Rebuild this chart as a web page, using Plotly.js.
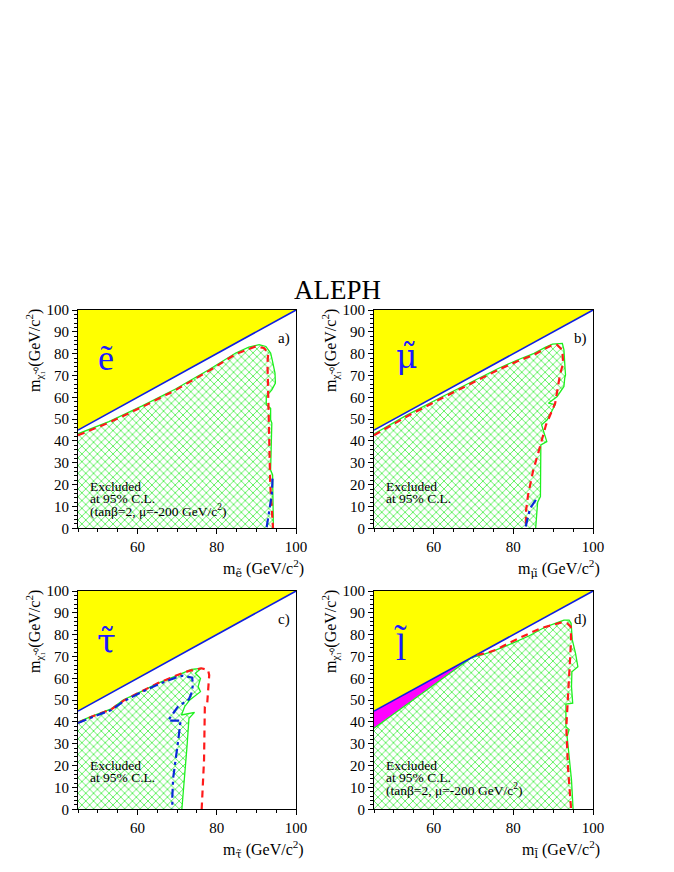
<!DOCTYPE html>
<html>
<head>
<meta charset="utf-8">
<script src="https://cdn.plot.ly/plotly-3.0.1.min.js"></script>
<style>html,body{margin:0;padding:0;background:#fff;}#plot{width:674px;height:872px;}</style>
</head>
<body>
<div id="plot"></div>
<script>
// ---------- data ----------
// kinematic limit m_chi = m_slepton
const kin_x = [45, 100];
const kin_y = [45, 100];
const kin_top_y = [100, 100];

// a) selectron
const e_green_x = [45, 52.8, 61.2, 69.6, 78.0, 84.8, 88.1, 90.7, 92.4, 93.6, 94.0, 94.7, 94.8, 93.9, 92.5, 92.5, 93.6, 93.6, 93.9, 93.6, 94.1, 94.3];
const e_green_y = [43.3, 48.9, 56.1, 63.8, 72.6, 80.3, 83.0, 84.1, 83.3, 80.3, 77.2, 71.1, 66.5, 63.4, 60.4, 56.6, 55.0, 49.7, 48.2, 26.7, 24.5, 0];
const e_red_x = [45, 52.8, 61.2, 69.6, 78.0, 84.8, 89.8, 91.9, 93.0, 92.8, 93.0, 93.2, 93.5, 94.2];
const e_red_y = [42.6, 48.4, 55.6, 63.3, 72.1, 79.8, 83.3, 82.6, 80.3, 75.7, 60.4, 39.0, 20.0, 0];
const e_blue_x = [92.6, 93.2, 93.9, 94.1];
const e_blue_y = [0.5, 7.5, 15.5, 23.7];

// b) smuon
const mu_green_x = [45, 53, 61.6, 69, 76.2, 81, 85.2, 88, 89.8, 92.3, 92.7, 93.0, 93.1, 92.9, 92.7, 91.0, 88.8, 90.5, 89.3, 88.5, 87.1, 88.4, 86.9, 86.8, 86.1, 85.6];
const mu_green_y = [43.2, 51.6, 59.8, 66.6, 73.2, 77.1, 80.1, 82.9, 84.4, 84.7, 81.7, 72.6, 70.3, 68.8, 65.0, 60.4, 57.3, 56.6, 52.7, 49.7, 47.4, 39.7, 38.2, 14.5, 12.0, 0];
const mu_red_x = [45, 53, 61.6, 69, 76.2, 81, 85.2, 88, 89.6, 91, 92.3, 92.5, 91.7, 90.5, 88.2, 86.7, 85.0, 83.7, 83.2, 83.1];
const mu_red_y = [42.6, 51.0, 59.2, 66.0, 72.6, 76.5, 79.5, 82.3, 83.8, 84.0, 81.7, 75.6, 70.3, 57.3, 47.4, 37.4, 26.7, 15.3, 8.4, 0];
const mu_blue_x = [83.1, 84.2, 86.2];
const mu_blue_y = [0.8, 9.2, 14.5];

// c) stau
const tau_green_x = [45, 48.4, 53.4, 56.5, 61, 65.2, 69.6, 72, 73.6, 76.1, 74.6, 75.9, 75.3, 75.9, 73.2, 71.9, 71.1, 74.4, 73.0, 72.5, 71.5, 71.2];
const tau_green_y = [40.0, 42.6, 46.0, 50.2, 54.0, 57.8, 61.0, 63.0, 64.1, 64.6, 62.3, 60.0, 56.2, 53.9, 50.1, 47.0, 43.2, 44.4, 41.7, 28.7, 7.3, 0];
const tau_red_x = [45, 48.4, 53.4, 56.5, 61, 65.2, 69.6, 73, 76.1, 77.8, 78.1, 77.6, 77.0, 76.8, 76.2];
const tau_red_y = [39.6, 42.4, 45.8, 49.8, 54.0, 57.8, 61.2, 63.4, 64.6, 63.8, 61.5, 48.5, 47.0, 22.6, 0];
const tau_blue_x = [45, 48.4, 53.4, 56.5, 61, 65.2, 69.6, 71.5, 73.8, 74.0, 73.6, 73.0, 70.2, 67.7, 71.1, 70.8, 70.3, 69.6, 69.0, 68.8, 68.8];
const tau_blue_y = [39.5, 42.1, 45.5, 49.5, 53.6, 57.2, 60.3, 61.2, 60.3, 57.0, 53.1, 50.4, 47.0, 40.6, 40.6, 39.4, 31.8, 22.6, 14.2, 5.8, 0];

// d) combined slepton
const l_mag_x = [45, 69.5, 45];
const l_mag_y = [45, 69.5, 37.1];
const l_green_x = [45, 69.5, 72.1, 74.6, 79.7, 84, 88, 92.7, 94.0, 94.5, 94.8, 95.6, 96.2, 94.7, 94.6, 94.9, 93.2, 93.2, 94.0, 93.5, 94.6, 95.0];
const l_green_y = [37.1, 69.5, 70.7, 72.2, 76.0, 79.5, 83.5, 86.7, 86.7, 85.2, 77.6, 71.5, 65.3, 63.0, 56.2, 48.6, 48.2, 37.8, 36.5, 33.3, 13.4, 0];
const l_red_x = [70.9, 73.4, 75.5, 80.5, 86.8, 91.9, 93.5, 94.4, 94.5, 94.0, 93.5, 93.3, 93.7, 94.5, 94.5];
const l_red_y = [70.7, 71.7, 73.0, 77.6, 82.9, 85.5, 85.2, 83.7, 77.6, 62.3, 47.0, 37.8, 19.5, 2.7, 0];

// text
const panel_tags = ['a)', 'b)', 'c)', 'd)'];
const particle_names = ['\u1ebd', '\u03bc\u0303', '\u03c4\u0303', 'l\u0303'];
const x_title_unit = ' (GeV/c<sup>2</sup>)';
const y_title = 'm<sub>\u03c7\u0303\u2081\u2070</sub>(GeV/c<sup>2</sup>)';
const excl_lines_long = ['Excluded', 'at 95% C.L.', '(tan\u03b2=2, \u03bc=-200 GeV/c<sup>2</sup>)'];
const excl_lines_short = ['Excluded', 'at 95% C.L.'];

// ---------- drawing ----------
const W = 674, H = 872;
const PX = v => v / W;
const PY = v => 1 - v / H;
const SERIF = 'Liberation Serif, Times New Roman, serif';

const panels = [
  {g: [e_green_x, e_green_y], r: [e_red_x, e_red_y], b: [e_blue_x, e_blue_y], mag: null},
  {g: [mu_green_x, mu_green_y], r: [mu_red_x, mu_red_y], b: [mu_blue_x, mu_blue_y], mag: null},
  {g: [tau_green_x, tau_green_y], r: [tau_red_x, tau_red_y], b: [tau_blue_x, tau_blue_y], mag: null},
  {g: [l_green_x, l_green_y], r: [l_red_x, l_red_y], b: null, mag: [l_mag_x, l_mag_y]}
];

const traces = [];
panels.forEach((p, i) => {
  const xa = i === 0 ? 'x' : 'x' + (i + 1);
  const ya = i === 0 ? 'y' : 'y' + (i + 1);
  traces.push({x: kin_x.concat([kin_x[0]]), y: kin_y.concat([kin_top_y[0]]), xaxis: xa, yaxis: ya,
    mode: 'lines', fill: 'toself', fillcolor: '#ffff00', line: {width: 0}, hoverinfo: 'skip', showlegend: false});
  if (p.mag) {
    traces.push({x: p.mag[0], y: p.mag[1], xaxis: xa, yaxis: ya, mode: 'lines', fill: 'toself',
      fillcolor: '#ff00ff', line: {width: 0}, hoverinfo: 'skip', showlegend: false});
  }
  const gx = p.g[0].concat([kin_x[0]]);
  const gy = p.g[1].concat([0]);
  traces.push({x: gx, y: gy, xaxis: xa, yaxis: ya, mode: 'lines', fill: 'toself',
    fillcolor: 'rgba(0,0,0,0)',
    fillpattern: {shape: 'x', fgcolor: '#55f055', bgcolor: 'rgba(255,255,255,0)', size: 5.5, solidity: 0.3},
    line: {width: 0}, hoverinfo: 'skip', showlegend: false});
  traces.push({x: p.g[0], y: p.g[1], xaxis: xa, yaxis: ya, mode: 'lines',
    line: {color: '#1ef01e', width: 1.3}, hoverinfo: 'skip', showlegend: false});
  traces.push({x: kin_x, y: kin_y, xaxis: xa, yaxis: ya, mode: 'lines',
    line: {color: '#1020e0', width: 1.6}, hoverinfo: 'skip', showlegend: false});
  traces.push({x: p.r[0], y: p.r[1], xaxis: xa, yaxis: ya, mode: 'lines',
    line: {color: '#ff1a1a', width: 2.2, dash: '7px,5px'}, hoverinfo: 'skip', showlegend: false});
  if (p.b) {
    traces.push({x: p.b[0], y: p.b[1], xaxis: xa, yaxis: ya, mode: 'lines',
      line: {color: '#0a2ad8', width: 2.2, dash: '9px,4px,3px,4px'}, hoverinfo: 'skip', showlegend: false});
  }
});

const xdomL = [78 / W, 296 / W], xdomR = [374 / W, 593 / W];
const ydomT = [PY(528.3), PY(310)], ydomB = [PY(809.3), PY(591)];
function xaxis(dom, anchor) {
  return {domain: dom, anchor: anchor, range: [45, 100], tick0: 0, dtick: 20, ticks: 'outside', ticklen: 5,
    tickcolor: '#000', showline: true, linecolor: '#000', linewidth: 1, mirror: true, showgrid: false, zeroline: false,
    minor: {dtick: 5, ticks: 'outside', ticklen: 3, tickcolor: '#000', showgrid: false},
    tickfont: {family: SERIF, size: 15, color: '#000'}, fixedrange: true};
}
function yaxis(dom, anchor) {
  return {domain: dom, anchor: anchor, range: [0, 100], tick0: 0, dtick: 10, ticks: 'outside', ticklen: 5,
    tickcolor: '#000', showline: true, linecolor: '#000', linewidth: 1, mirror: true, showgrid: false, zeroline: false,
    minor: {dtick: 2, ticks: 'outside', ticklen: 3, tickcolor: '#000', showgrid: false},
    tickfont: {family: SERIF, size: 15, color: '#000'}, fixedrange: true};
}

const ann = [];
function txt(text, x, y, size, opts) {
  ann.push(Object.assign({text: text, x: PX(x), y: PY(y), xref: 'paper', yref: 'paper', showarrow: false,
    xanchor: 'center', yanchor: 'middle', font: {family: SERIF, size: size, color: '#000'}}, opts || {}));
}
const BLUE = '#1a1aff';
txt('ALEPH', 337, 290, 27);
const offs = [[0, 0], [296, 0], [0, 281], [296, 281]];
// big particle symbols (Greek ones in DejaVu Serif so the combining tilde sits on the letter)
const symX = [106, 406, 106, 401];
const symY = [358, 356, 360, 365];
const symFont = [SERIF, 'DejaVu Serif', 'DejaVu Serif', SERIF];
const symSize = [36, 33, 34, 38];
offs.forEach((o, i) => {
  const dx = o[0], dy = o[1];
  txt(panel_tags[i], 284 + dx, 338 + dy, 15);
  ann.push({text: particle_names[i], x: PX(symX[i]), y: PY(symY[i] + (i >= 2 ? 281 : 0)), xref: 'paper', yref: 'paper',
    showarrow: false, xanchor: 'center', yanchor: 'middle', font: {family: symFont[i], size: symSize[i], color: BLUE}});
  const sub = '<span style="font-family:DejaVu Serif">' + particle_names[i] + '</span>';
  txt('m<sub>' + sub + '</sub>' + x_title_unit, 306 + dx, 568 + dy, 16, {xanchor: 'right'});
  txt(y_title, 34 + dx, 351 + dy, 16, {textangle: -90});
  const lines = (i === 0 || i === 3) ? excl_lines_long : excl_lines_short;
  const y0 = (i < 2) ? 486 : 484;
  lines.forEach((l, k) => txt(l, 88 + dx, y0 + dy + k * 12.4, 13.5, {xanchor: 'left'}));
});

const layout = {
  width: W, height: H, margin: {l: 0, r: 0, t: 0, b: 0}, paper_bgcolor: '#fff', plot_bgcolor: '#fff',
  showlegend: false,
  xaxis: xaxis(xdomL, 'y'), yaxis: yaxis(ydomT, 'x'),
  xaxis2: xaxis(xdomR, 'y2'), yaxis2: yaxis(ydomT, 'x2'),
  xaxis3: xaxis(xdomL, 'y3'), yaxis3: yaxis(ydomB, 'x3'),
  xaxis4: xaxis(xdomR, 'y4'), yaxis4: yaxis(ydomB, 'x4'),
  annotations: ann
};
Plotly.newPlot('plot', traces, layout, {displayModeBar: false, staticPlot: true});
</script>
</body>
</html>
